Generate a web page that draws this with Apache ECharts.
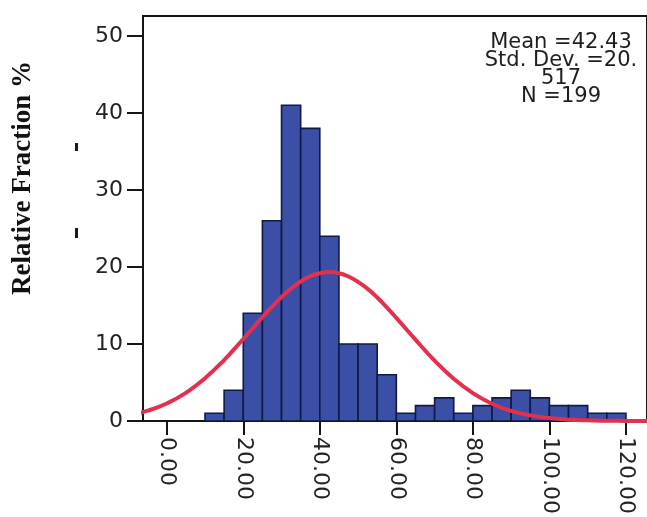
<!DOCTYPE html>
<html>
<head>
<meta charset="utf-8">
<script src="https://cdn.jsdelivr.net/npm/echarts@6/dist/echarts.min.js"></script>
<style>
  html, body { margin: 0; padding: 0; background: #ffffff; }
  #chart { width: 647px; height: 517px; }
</style>
</head>
<body>
<div id="chart"></div>
<script>
// Histogram bins: left edge of each 5-unit bin and its count
const binStarts = [10, 15, 20, 25, 30, 35, 40, 45, 50, 55, 60, 65, 70, 75, 80, 85, 90, 95, 100, 105, 110, 115];
const binWidth = 5;
const counts = [1, 4, 14, 26, 41, 38, 24, 10, 10, 6, 1, 2, 3, 1, 2, 3, 4, 3, 2, 2, 1, 1];

// Fitted normal curve, sampled points (x, expected count per bin)
const curveX = [-10, -5, 0, 5, 10, 15, 20, 25, 27.5, 30, 32.5, 35, 37.5, 40, 42.5, 45, 47.5, 50, 52.5, 55, 57.5, 60, 65, 70, 75, 80, 85, 90, 95, 100, 105, 110, 115, 120, 125, 130];
const curveY = [0.74, 1.34, 2.28, 3.66, 5.55, 7.92, 10.65, 13.49, 14.85, 16.1, 17.21, 18.12, 18.8, 19.2, 19.35, 19.2, 18.77, 18.07, 17.16, 16.04, 14.77, 13.4, 10.57, 7.84, 5.49, 3.62, 2.25, 1.32, 0.73, 0.38, 0.18, 0.085, 0.04, 0.015, 0.005, 0.002];

// Axis ticks
const yTicks = [0, 10, 20, 30, 40, 50];
const xTicks = [0, 20, 40, 60, 80, 100, 120];

// Summary statistics box
const statsLines = ['Mean =42.43', 'Std. Dev. =20.', '517', 'N =199'];
const yTitle = 'Relative Fraction %';

const chart = echarts.init(document.getElementById('chart'), null, { renderer: 'canvas' });

const axisColor = '#151515';

chart.setOption({
  backgroundColor: '#ffffff',
  animation: false,
  grid: {
    left: 143, top: 16, right: -3, bottom: 93,
    show: true, borderColor: axisColor, borderWidth: 2, backgroundColor: 'transparent'
  },
  xAxis: {
    type: 'value',
    min: -6.2,
    max: 125.5,
    axisLine: { show: true, onZero: false, lineStyle: { color: axisColor, width: 2 } },
    axisTick: { show: true, customValues: xTicks, length: 14, lineStyle: { color: axisColor, width: 2 } },
    axisLabel: {
      customValues: xTicks,
      rotate: -90,
      margin: 16,
      color: '#222',
      fontFamily: 'DejaVu Sans',
      fontSize: 22,
      formatter: v => Number(v).toFixed(2)
    },
    splitLine: { show: false }
  },
  yAxis: {
    type: 'value',
    min: 0,
    max: 52.6,
    axisLine: { show: true, onZero: false, lineStyle: { color: axisColor, width: 2 } },
    axisTick: { show: true, customValues: yTicks, length: 16, lineStyle: { color: axisColor, width: 2 } },
    axisLabel: {
      customValues: yTicks,
      margin: 20,
      color: '#222',
      fontFamily: 'DejaVu Sans',
      fontSize: 22
    },
    splitLine: { show: false }
  },
  series: [
    {
      type: 'custom',
      data: binStarts.map((s, i) => [s, counts[i]]),
      encode: { x: 0, y: 1 },
      clip: true,
      z: 2,
      renderItem: function (params, api) {
        const start = api.value(0);
        const count = api.value(1);
        const p0 = api.coord([start, 0]);
        const p1 = api.coord([start + binWidth, count]);
        return {
          type: 'rect',
          shape: { x: p0[0], y: p1[1], width: p1[0] - p0[0], height: p0[1] - p1[1] },
          style: { fill: '#3b4fa6', stroke: '#101a45', lineWidth: 1.6 }
        };
      }
    },
    {
      type: 'line',
      data: curveX.map((x, i) => [x, curveY[i]]),
      smooth: true,
      showSymbol: false,
      clip: true,
      z: 5,
      lineStyle: { color: '#e3304f', width: 4 }
    }
  ],
  graphic: [
    {
      type: 'text',
      x: 561, y: 70,
      z: 10,
      style: {
        text: statsLines.join('\n'),
        fontFamily: 'DejaVu Sans',
        fontSize: 21,
        lineHeight: 18,
        fill: '#1e1e1e',
        align: 'center',
        verticalAlign: 'middle'
      }
    },
    {
      type: 'text',
      x: 23, y: 178,
      rotation: Math.PI / 2,
      style: {
        text: yTitle,
        fontFamily: 'Liberation Serif',
        fontWeight: 'bold',
        fontSize: 27,
        fill: '#111',
        align: 'center',
        verticalAlign: 'middle'
      }
    },
    { type: 'rect', shape: { x: 75, y: 143, width: 3, height: 8 }, style: { fill: '#1a1a1a' } },
    { type: 'rect', shape: { x: 75, y: 228, width: 3, height: 10 }, style: { fill: '#1a1a1a' } }
  ]
});
</script>
</body>
</html>
